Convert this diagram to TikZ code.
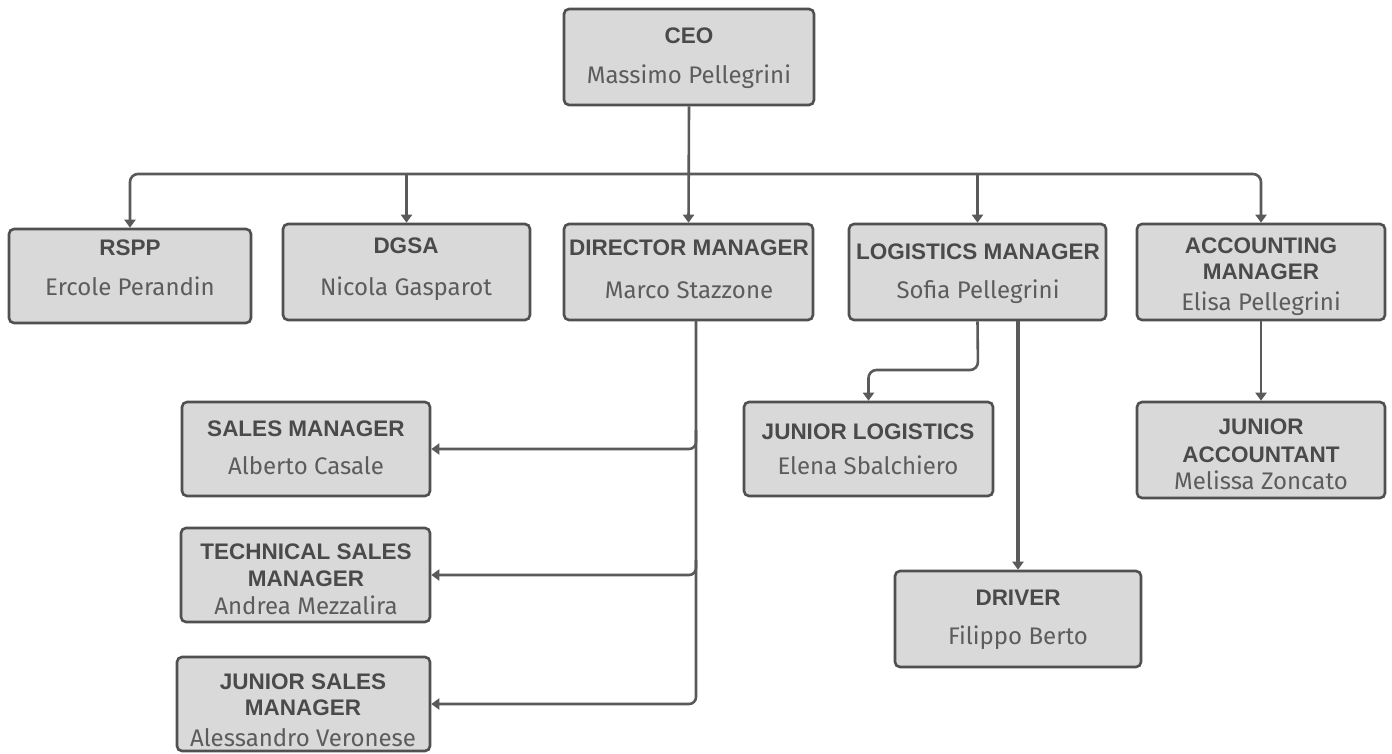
\documentclass[tikz,border=0pt]{standalone}
\usepackage{fontspec}
\usetikzlibrary{arrows.meta}
\newfontfamily\ttlfont{Liberation Sans}
\newfontfamily\nmfont{Fira Sans}
\definecolor{boxfill}{HTML}{D9D9D9}
\definecolor{boxline}{HTML}{505050}
\definecolor{linec}{HTML}{5A5A5A}
\definecolor{ttlc}{HTML}{4A4A4A}
\definecolor{nmc}{HTML}{5C5C5C}
\tikzset{
  box/.style={draw=boxline, fill=boxfill, line width=2.6pt, rounded corners=5pt, inner sep=0pt},
  ttl/.style={inner sep=0pt, text height=16pt, text depth=0pt, text=ttlc, font=\ttlfont\bfseries\fontsize{22.5}{26}\selectfont},
  nm/.style={inner sep=0pt, text height=17pt, text depth=0pt, text=nmc, font=\nmfont\fontsize{24}{28}\selectfont},
  conn/.style={draw=linec, line width=2.6pt, -{Triangle[length=8pt,width=11pt]}},
}
\newcommand{\mkbox}[5]{% name, left, top, right, bottom
  \node[box, minimum width={(#4-#2)*1pt}, minimum height={(#5-#3)*1pt}] (#1) at ({(#2+#4)/2},{(#3+#5)/2}) {};}
\begin{document}
\begin{tikzpicture}[x=1pt,y=-1pt]
\useasboundingbox (0,0) rectangle (1392,754);
\fill[white] (0,0) rectangle (1392,754);
% boxes
\mkbox{ceo}{564}{9}{814}{105}
\mkbox{rspp}{9}{229}{251}{323}
\mkbox{dgsa}{283}{224}{530}{320}
\mkbox{dir}{564}{224}{813}{320}
\mkbox{log}{849}{224}{1106}{320}
\mkbox{acc}{1137}{224}{1385}{320}
\mkbox{sales}{182}{402}{430}{496}
\mkbox{tech}{181}{528}{430}{622}
\mkbox{jsales}{177}{657}{430}{751}
\mkbox{jlog}{744}{402}{993}{496}
\mkbox{jacc}{1137}{402}{1385}{498}
\mkbox{drv}{895}{571}{1141}{667}
% texts
\node[ttl] (ceo-t) at (689,36) {CEO};
\node[nm] (ceo-n) at (689,75) {Massimo Pellegrini};
\node[ttl] (rspp-t) at (130,247) {RSPP};
\node[nm] (rspp-n) at (130,287) {Ercole Perandin};
\node[ttl] (dgsa-t) at (406,245) {DGSA};
\node[nm] (dgsa-n) at (406,287) {Nicola Gasparot};
\node[ttl] (dir-t) at (689,247) {DIRECTOR MANAGER};
\node[nm] (dir-n) at (689,290) {Marco Stazzone};
\node[ttl] (log-t) at (978,251) {LOGISTICS MANAGER};
\node[nm] (log-n) at (978,290) {Sofia Pellegrini};
\node[ttl] (acc-t1) at (1261,245) {ACCOUNTING};
\node[ttl] (acc-t2) at (1261,271) {MANAGER};
\node[nm] (acc-n) at (1261,302) {Elisa Pellegrini};
\node[ttl] (sales-t) at (306,428) {SALES MANAGER};
\node[nm] (sales-n) at (306,466) {Alberto Casale};
\node[ttl] (tech-t1) at (306,551) {TECHNICAL SALES};
\node[ttl] (tech-t2) at (306,578) {MANAGER};
\node[nm] (tech-n) at (306,606) {Andrea Mezzalira};
\node[ttl] (jsales-t1) at (303,681) {JUNIOR SALES};
\node[ttl] (jsales-t2) at (303,707) {MANAGER};
\node[nm] (jsales-n) at (303,738) {Alessandro Veronese};
\node[ttl] (jlog-t) at (868,431) {JUNIOR LOGISTICS};
\node[nm] (jlog-n) at (868,466) {Elena Sbalchiero};
\node[ttl] (jacc-t1) at (1261,426) {JUNIOR};
\node[ttl] (jacc-t2) at (1261,454) {ACCOUNTANT};
\node[nm] (jacc-n) at (1261,481) {Melissa Zoncato};
\node[ttl] (drv-t) at (1018,597) {DRIVER};
\node[nm] (drv-n) at (1018,636) {Filippo Berto};
% connectors
\coordinate (bus) at (689,174);
\draw[conn] (ceo.south) -- (dir.north);
\draw[conn, rounded corners=8pt] (bus) -| (rspp.north);
\draw[conn] (bus -| dgsa.north) -- (dgsa.north);
\draw[conn] (bus -| log.north) -- (log.north);
\draw[conn, rounded corners=8pt] (bus) -| (acc.north);
\coordinate (dv) at (696,320);
\draw[conn, rounded corners=7pt] (dv) |- (jsales.east);
\draw[conn, rounded corners=7pt] (696,430) |- (sales.east);
\draw[conn, rounded corners=7pt] (696,560) |- (tech.east);
\draw[conn, rounded corners=8pt] (log.south) -- (978,370) -| (jlog.north);
\draw[conn, line width=4pt] (log.south -| drv.north) -- (drv.north);
\draw[conn] (acc.south) -- (jacc.north);
\end{tikzpicture}
\end{document}
